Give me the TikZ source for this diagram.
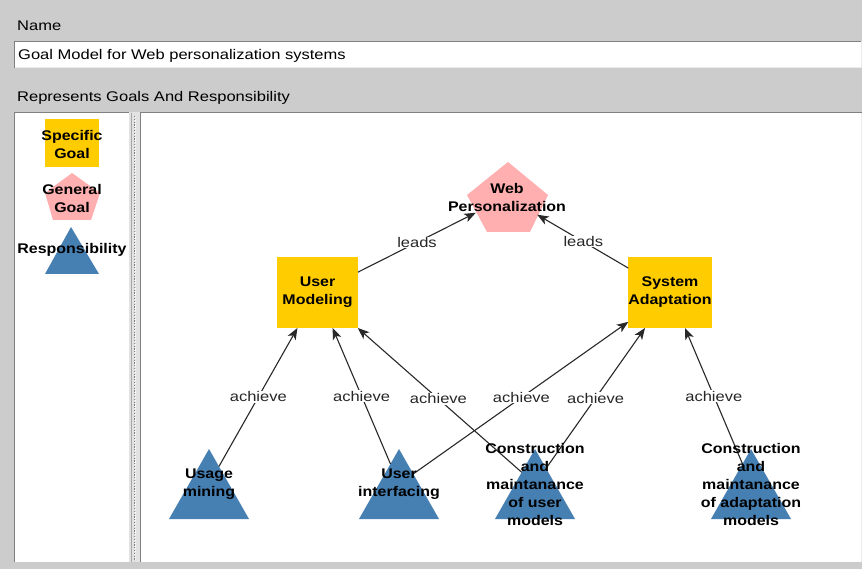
\documentclass[tikz,border=0pt]{standalone}
\usepackage{fontspec}
\setmainfont{Liberation Sans}[FakeStretch=1.18, BoldFeatures={FakeStretch=1.14}]
\usetikzlibrary{arrows.meta}
\definecolor{uigray}{RGB}{204,204,204}
\definecolor{uiborder}{RGB}{128,128,128}
\definecolor{uilight}{RGB}{236,236,236}
\definecolor{goalyellow}{RGB}{255,204,0}
\definecolor{goalpink}{RGB}{255,175,175}
\definecolor{respblue}{RGB}{70,127,178}
\definecolor{edgegray}{RGB}{40,40,40}
\tikzset{
  uitext/.style={anchor=west, inner sep=0pt, font=\fontsize{14}{16}\selectfont},
  goalbox/.style={fill=goalyellow, minimum width=81pt, minimum height=71pt, inner sep=0pt, outer sep=0pt, align=center, font=\bfseries\fontsize{14}{18}\selectfont},
  lbl/.style={align=center, inner sep=0pt, font=\bfseries\fontsize{14}{18}\selectfont},
  conn/.style={draw=edgegray, line width=1.1pt, -{Stealth[length=11.5pt,width=9pt,inset=3pt]}},
  elabel/.style={fill=white, inner sep=0.6pt, font=\fontsize{14}{16}\selectfont, text=black!85},
}
\begin{document}
\begin{tikzpicture}[x=1pt,y=-1pt]
\useasboundingbox (0,0) rectangle (862,569);
% window background
\fill[uigray] (0,0) rectangle (862,569);
% labels
\node[uitext] (namelbl) at (17,26) {Name};
% text field
\fill[white] (14,41) rectangle (861,68);
\draw[uiborder, line width=1pt] (14.5,68) -- (14.5,41.5) -- (862,41.5);
\draw[uilight, line width=1pt] (14.5,68) -- (861,68) -- (861,41.5);
\node[uitext] (namefield) at (18,55.5) {Goal Model for Web personalization systems};
\node[uitext] (replbl) at (17,97.5) {Represents Goals And Responsibility};
% left panel
\fill[white] (15,113) rectangle (129,562);
\draw[uiborder, line width=1pt] (14.5,562) -- (14.5,112.5) -- (129,112.5);
% splitter
\fill[uilight!70!uigray] (129,112) rectangle (140,562);
\draw[uiborder!70, line width=0.8pt] (131,113) -- (131,562);
\draw[uiborder, line width=1.6pt, dash pattern=on 1.2pt off 1.6pt] (134.5,116) -- (134.5,560);
\draw[white, line width=0.8pt, dash pattern=on 1.2pt off 1.6pt] (135.8,117) -- (135.8,560);
% right panel
\fill[white] (141,113) rectangle (861,562);
\draw[uiborder, line width=1pt] (140.5,562) -- (140.5,112.5) -- (862,112.5);
\draw[uilight, line width=1pt] (861.5,113) -- (861.5,562);

% ---------- legend ----------
\node[goalbox, minimum width=54pt, minimum height=48pt] (lgoal) at (72,143) {};
\node[lbl] (lgoaltxt) at (72,144) {Specific\\Goal};
\fill[goalpink] (72,173) -- (100,193) -- (91,220) -- (53,220) -- (45,193) -- cycle;
\node[lbl] (lgentxt) at (72,198) {General\\Goal};
\fill[respblue] (71,227) -- (99,274) -- (45,274) -- cycle;
\node[lbl] (lresptxt) at (72,250) {Responsibility};

% ---------- main diagram ----------
% general goal
\fill[goalpink] (508,162) -- (548,195) -- (530,232) -- (487,232) -- (467,195) -- cycle;
\node[lbl] (wp) at (507,197) {Web\\Personalization};
% specific goals
\node[goalbox] (um) at (317.5,292.5) {User\\Modeling};
\node[goalbox] (sa) at (670,292.5) {System\\Adaptation};
% responsibilities (triangles)
\fill[respblue] (209,449) -- (249,519) -- (169,519) -- cycle;
\fill[respblue] (399,449) -- (439,519) -- (359,519) -- cycle;
\fill[respblue] (535,449) -- (575,519) -- (495,519) -- cycle;
\fill[respblue] (751,449) -- (791,519) -- (711,519) -- cycle;
\coordinate (usec) at (209,484);
\coordinate (uic) at (399,484);
\coordinate (cuc) at (535,484);
\coordinate (cac) at (751,484);

% leads edges
\draw[conn, shorten >=35pt] (um) -- node[elabel, pos=0.396] {leads} (wp.center);
\draw[conn, shorten >=35pt] (sa) -- node[elabel, pos=0.371] {leads} (wp.center);

% achieve edges
\draw[conn, shorten <=20.2pt] (usec) -- node[elabel, pos=0.558] {achieve} (um);
\draw[conn, shorten <=21.8pt] (uic) -- node[elabel, pos=0.564] {achieve} (um);
\draw[conn, shorten <=17.7pt] (cuc) -- node[elabel, pos=0.545] {achieve} (um);
\draw[conn, shorten <=17.4pt] (uic) -- node[elabel, pos=0.534] {achieve} (sa);
\draw[conn, shorten <=19.2pt] (cuc) -- node[elabel, pos=0.551] {achieve} (sa);
\draw[conn, shorten <=21.8pt] (cac) -- node[elabel, pos=0.564] {achieve} (sa);

% responsibility labels
\node[lbl] (use) at (usec) {Usage\\mining};
\node[lbl] (ui) at (uic) {User\\interfacing};
\node[lbl] (cu) at (cuc) {Construction\\and\\maintanance\\of user\\models};
\node[lbl] (ca) at (cac) {Construction\\and\\maintanance\\of adaptation\\models};
\end{tikzpicture}
\end{document}
